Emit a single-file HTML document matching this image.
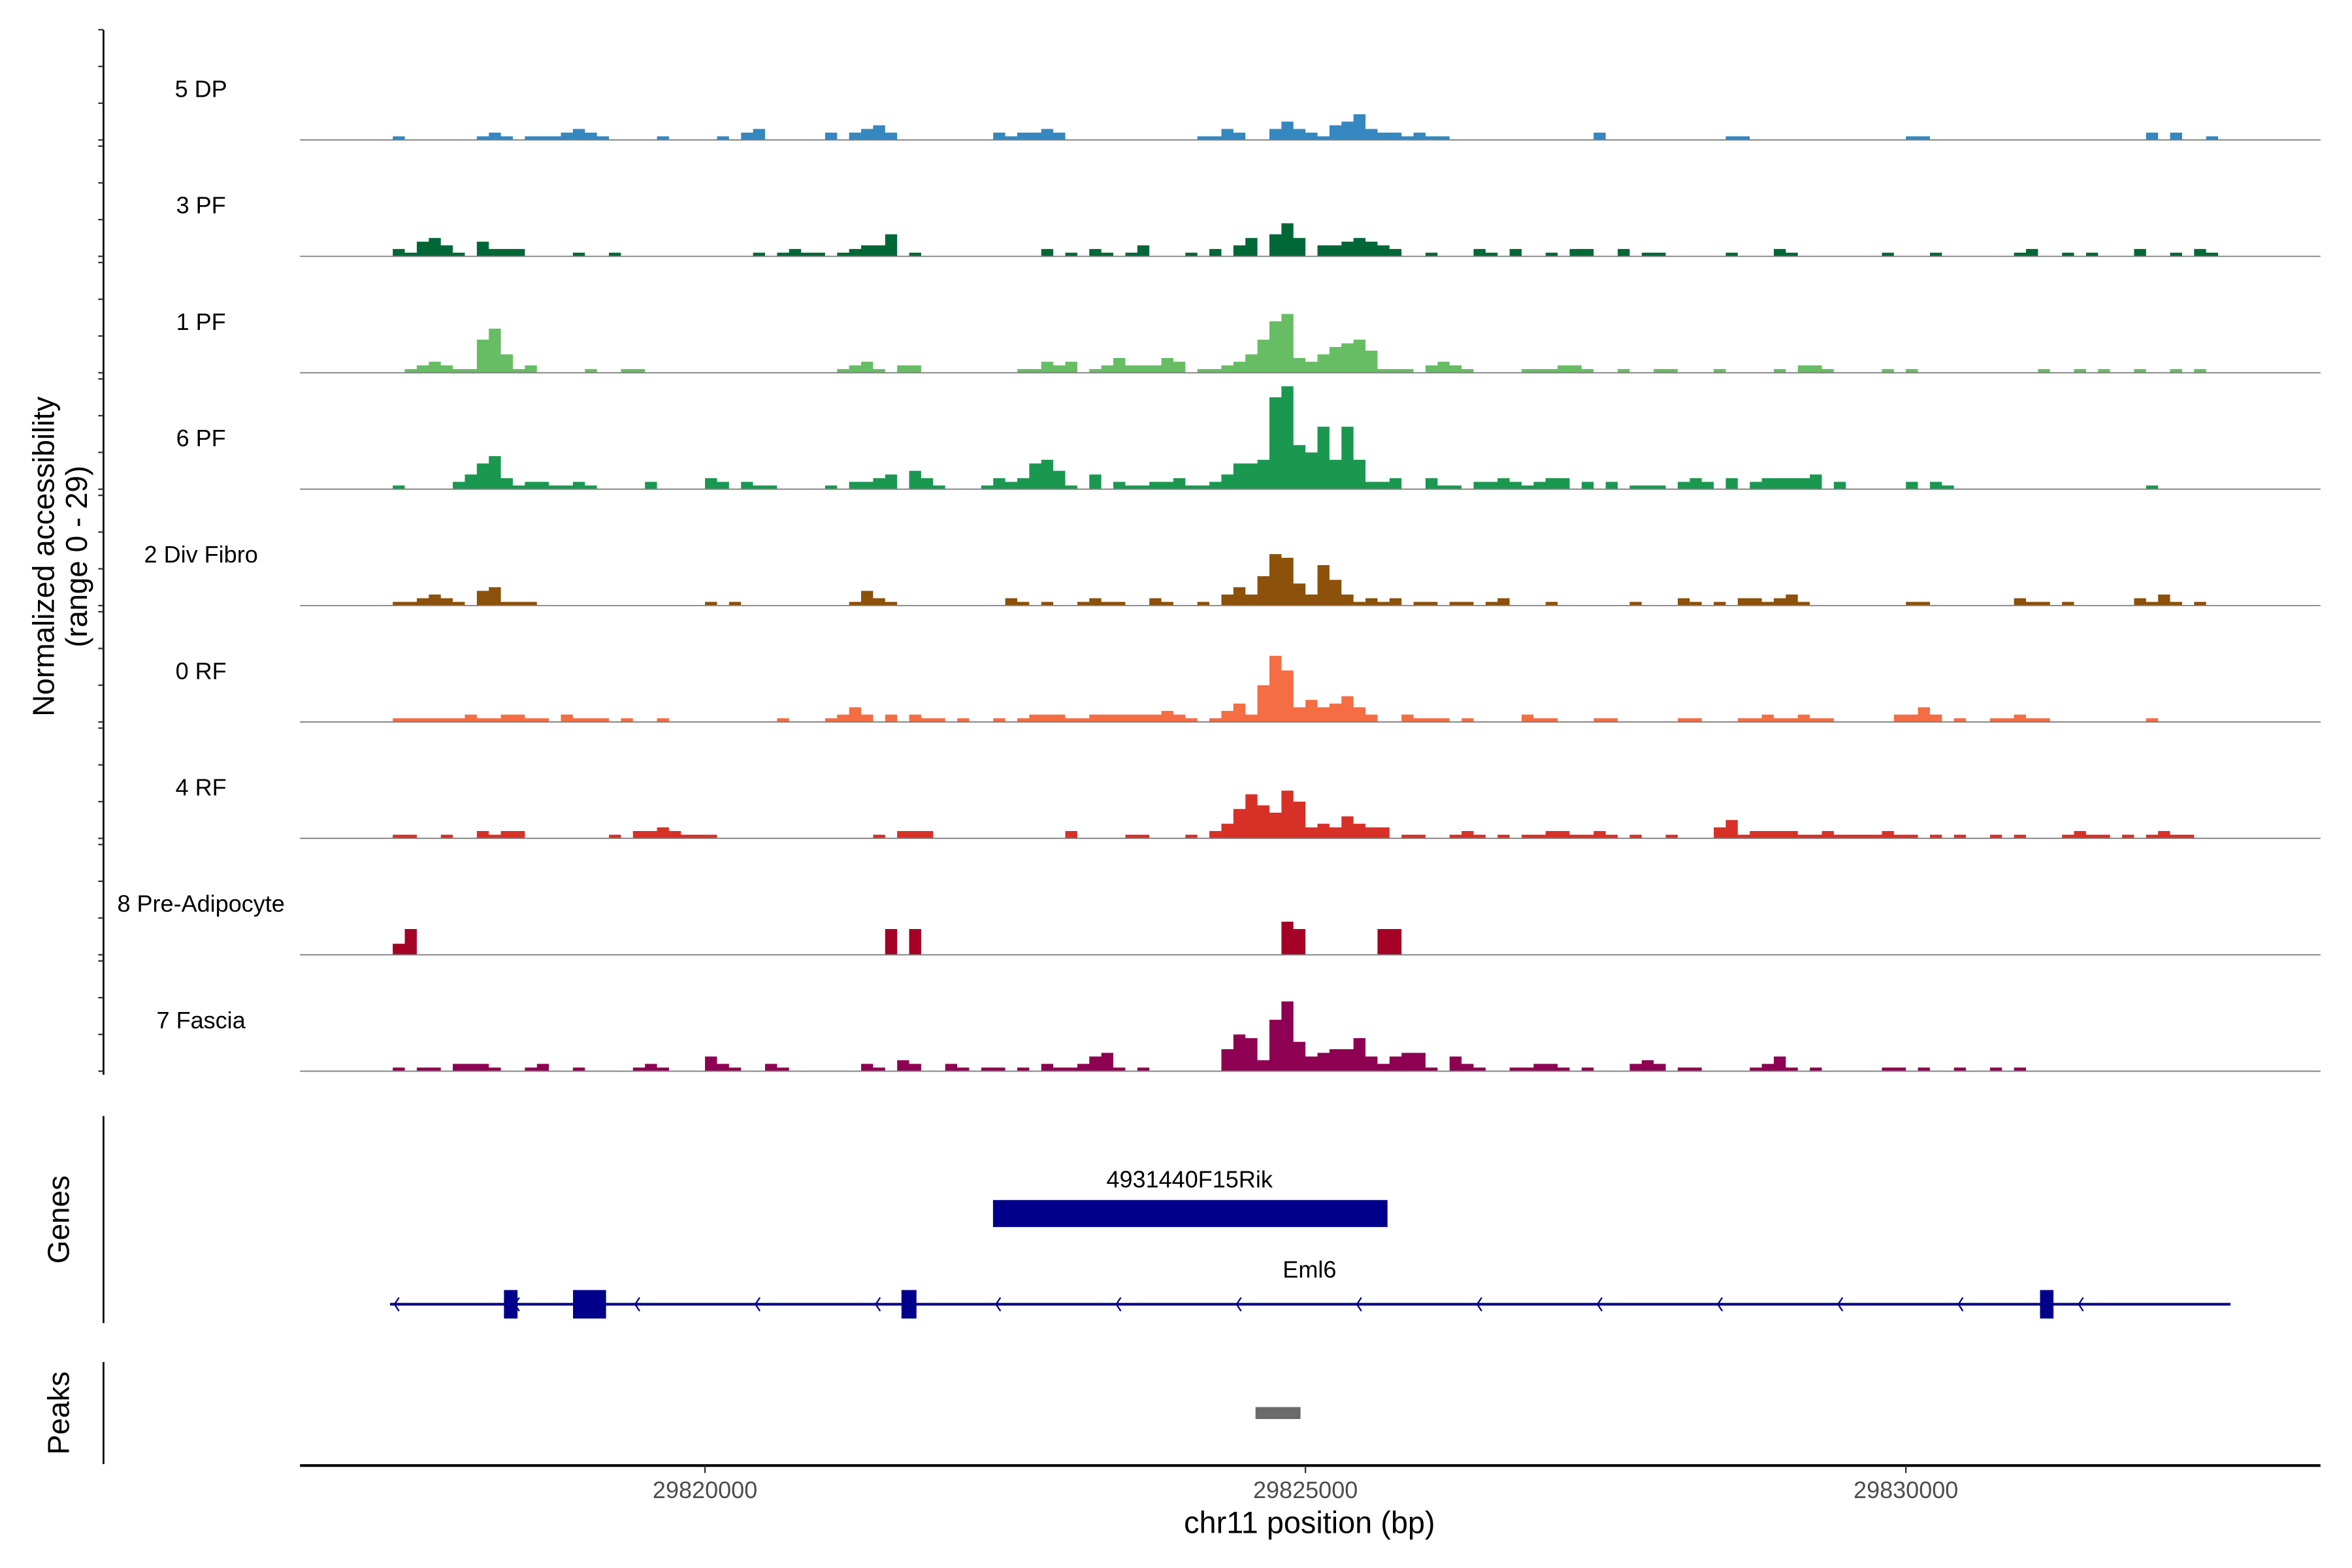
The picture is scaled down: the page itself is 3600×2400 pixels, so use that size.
<!DOCTYPE html>
<html><head><meta charset="utf-8">
<style>
html,body{margin:0;padding:0;background:#fff;}
svg{display:block;font-family:"Liberation Sans",Arial,sans-serif;}
</style></head>
<body>
<svg id="chart" width="3600" height="2400" viewBox="0 0 1568 1045.3" preserveAspectRatio="none" xmlns="http://www.w3.org/2000/svg">
  <rect x="0" y="0" width="1568" height="1046" fill="#fff"/>
  <g id="tracks"></g>
  <g id="yaxis">
    <line x1="69" y1="20" x2="69" y2="716.5" stroke="#000" stroke-width="1.2"/>
  </g>
  <text transform="translate(36,371) rotate(-90)" text-anchor="middle" font-size="20" fill="#000">Normalized accessibility</text>
  <text transform="translate(58,371) rotate(-90)" text-anchor="middle" font-size="20" fill="#000">(range 0 - 29)</text>

  <g>
    <line x1="69" y1="744" x2="69" y2="882" stroke="#000" stroke-width="1.2"/>
    <text transform="translate(46,813) rotate(-90)" text-anchor="middle" font-size="20" fill="#000">Genes</text>
    <text x="793" y="791.6" text-anchor="middle" font-size="15.7" fill="#000">4931440F15Rik</text>
    <rect x="662" y="800" width="263" height="18" fill="#00008B"/>
    <text x="873" y="851.6" text-anchor="middle" font-size="15.7" fill="#000">Eml6</text>
    <g id="eml6">
      <line x1="260" y1="869.5" x2="1487" y2="869.5" stroke="#00008B" stroke-width="1.8"/>
    </g>
  </g>

  <g>
    <line x1="69" y1="908" x2="69" y2="976" stroke="#000" stroke-width="1.2"/>
    <text transform="translate(46,942) rotate(-90)" text-anchor="middle" font-size="20" fill="#000">Peaks</text>
    <rect x="837" y="938" width="30" height="8" fill="#6b6b6b"/>
  </g>

  <g id="xaxis">
    <line x1="200" y1="977" x2="1547" y2="977" stroke="#000" stroke-width="1.8"/>
  </g>
  <text x="873" y="1022" text-anchor="middle" font-size="20.4" fill="#000">chr11 position (bp)</text>
</svg>
<script>
// ---- chart data ----
const trackNames = ["5 DP","3 PF","1 PF","6 PF","2 Div Fibro","0 RF","4 RF","8 Pre-Adipocyte","7 Fascia"];
const trackColors = ["#3587c0","#006837","#66bd63","#1a9850","#8c510a","#f46d43","#d73027","#a50026","#8e0152"];
const binStart = 29817400;
const binSize = 100;
const xTicks = [29820000, 29825000, 29830000];
// coverage: [binIndex, value]
const cov5DP = [[0,1],[7,1],[8,2],[9,1],[11,1],[12,1],[13,1],[14,2],[15,3],[16,2],[17,1],[22,1],[27,1],[29,2],[30,3],[36,2],[38,2],[39,3],[40,4],[41,2],[50,2],[51,1],[52,2],[53,2],[54,3],[55,2],[67,1],[68,1],[69,3],[70,2],[73,3],[74,5],[75,3],[76,2],[77,1],[78,4],[79,5],[80,7],[81,3],[82,2],[83,2],[84,1],[85,2],[86,1],[87,1],[100,2],[111,1],[112,1],[126,1],[127,1],[146,2],[148,2],[151,1]];
const cov3PF = [[0,2],[1,1],[2,4],[3,5],[4,3],[5,1],[7,4],[8,2],[9,2],[10,2],[15,1],[18,1],[30,1],[32,1],[33,2],[34,1],[35,1],[37,1],[38,2],[39,3],[40,3],[41,6],[43,1],[54,2],[56,1],[58,2],[59,1],[61,1],[62,3],[66,1],[68,2],[70,3],[71,5],[73,6],[74,9],[75,5],[77,3],[78,3],[79,4],[80,5],[81,4],[82,3],[83,2],[86,1],[90,2],[91,1],[93,2],[96,1],[98,2],[99,2],[102,2],[104,1],[105,1],[111,1],[115,2],[116,1],[124,1],[128,1],[135,1],[136,2],[139,1],[141,1],[145,2],[148,1],[150,2],[151,1]];
const cov1PF = [[1,1],[2,2],[3,3],[4,2],[5,1],[6,1],[7,9],[8,12],[9,5],[10,1],[11,2],[16,1],[19,1],[20,1],[37,1],[38,2],[39,3],[40,1],[42,2],[43,2],[52,1],[53,1],[54,3],[55,2],[56,3],[58,1],[59,2],[60,4],[61,2],[62,2],[63,2],[64,4],[65,3],[67,1],[68,1],[69,2],[70,3],[71,5],[72,9],[73,14],[74,16],[75,4],[76,3],[77,5],[78,7],[79,8],[80,9],[81,6],[82,1],[83,1],[84,1],[86,2],[87,3],[88,2],[89,1],[94,1],[95,1],[96,1],[97,2],[98,2],[99,1],[102,1],[105,1],[106,1],[110,1],[115,1],[117,2],[118,2],[119,1],[124,1],[126,1],[137,1],[140,1],[142,1],[145,1],[148,1],[150,1]];
const cov6PF = [[0,1],[5,2],[6,4],[7,7],[8,9],[9,3],[10,1],[11,2],[12,2],[13,1],[14,1],[15,2],[16,1],[21,2],[26,3],[27,2],[29,2],[30,1],[31,1],[36,1],[38,2],[39,2],[40,3],[41,4],[43,5],[44,3],[45,1],[49,1],[50,3],[51,2],[52,3],[53,7],[54,8],[55,5],[56,1],[58,4],[60,2],[61,1],[62,1],[63,2],[64,2],[65,3],[66,1],[67,1],[68,2],[69,4],[70,7],[71,7],[72,8],[73,25],[74,28],[75,12],[76,10],[77,17],[78,8],[79,17],[80,8],[81,2],[82,2],[83,3],[86,3],[87,1],[88,1],[90,2],[91,2],[92,3],[93,2],[94,1],[95,2],[96,3],[97,3],[99,2],[101,2],[103,1],[104,1],[105,1],[107,2],[108,3],[109,2],[111,3],[113,2],[114,3],[115,3],[116,3],[117,3],[118,4],[120,2],[126,2],[128,2],[129,1],[146,1]];
const cov2Div = [[0,1],[1,1],[2,2],[3,3],[4,2],[5,1],[7,4],[8,5],[9,1],[10,1],[11,1],[26,1],[28,1],[38,1],[39,4],[40,2],[41,1],[51,2],[52,1],[54,1],[57,1],[58,2],[59,1],[60,1],[63,2],[64,1],[67,1],[69,3],[70,5],[71,3],[72,8],[73,14],[74,13],[75,6],[76,3],[77,11],[78,7],[79,3],[80,1],[81,2],[82,1],[83,2],[85,1],[86,1],[88,1],[89,1],[91,1],[92,2],[96,1],[103,1],[107,2],[108,1],[110,1],[112,2],[113,2],[114,1],[115,2],[116,3],[117,1],[126,1],[127,1],[135,2],[136,1],[137,1],[139,1],[145,2],[146,1],[147,3],[148,1],[150,1]];
const cov0RF = [[0,1],[1,1],[2,1],[3,1],[4,1],[5,1],[6,2],[7,1],[8,1],[9,2],[10,2],[11,1],[12,1],[14,2],[15,1],[16,1],[17,1],[19,1],[22,1],[32,1],[36,1],[37,2],[38,4],[39,2],[41,2],[43,2],[44,1],[45,1],[47,1],[50,1],[52,1],[53,2],[54,2],[55,2],[56,1],[57,1],[58,2],[59,2],[60,2],[61,2],[62,2],[63,2],[64,3],[65,2],[66,1],[68,1],[69,3],[70,5],[71,2],[72,10],[73,18],[74,14],[75,4],[76,6],[77,4],[78,5],[79,7],[80,4],[81,2],[84,2],[85,1],[86,1],[87,1],[89,1],[94,2],[95,1],[96,1],[100,1],[101,1],[107,1],[108,1],[112,1],[113,1],[114,2],[115,1],[116,1],[117,2],[118,1],[119,1],[125,2],[126,2],[127,4],[128,2],[130,1],[133,1],[134,1],[135,2],[136,1],[137,1],[146,1]];
const cov4RF = [[0,1],[1,1],[4,1],[7,2],[8,1],[9,2],[10,2],[18,1],[20,2],[21,2],[22,3],[23,2],[24,1],[25,1],[26,1],[40,1],[42,2],[43,2],[44,2],[56,2],[61,1],[62,1],[66,1],[68,2],[69,4],[70,8],[71,12],[72,9],[73,7],[74,13],[75,10],[76,3],[77,4],[78,3],[79,6],[80,4],[81,3],[82,3],[84,1],[85,1],[88,1],[89,2],[90,1],[92,1],[94,1],[95,1],[96,2],[97,2],[98,1],[99,1],[100,2],[101,1],[103,1],[106,1],[110,3],[111,5],[112,1],[113,2],[114,2],[115,2],[116,2],[117,1],[118,1],[119,2],[120,1],[121,1],[122,1],[123,1],[124,2],[125,1],[126,1],[128,1],[130,1],[133,1],[135,1],[139,1],[140,2],[141,1],[142,1],[144,1],[146,1],[147,2],[148,1],[149,1]];
const cov8Pre = [[0,3],[1,7],[41,7],[43,7],[74,9],[75,7],[82,7],[83,7]];
const cov7Fas = [[0,1],[2,1],[3,1],[5,2],[6,2],[7,2],[8,1],[11,1],[12,2],[15,1],[20,1],[21,2],[22,1],[26,4],[27,2],[28,1],[31,2],[32,1],[39,2],[40,1],[42,3],[43,2],[46,2],[47,1],[49,1],[50,1],[52,1],[54,2],[55,1],[56,1],[57,2],[58,4],[59,5],[60,1],[62,1],[69,6],[70,10],[71,9],[72,3],[73,14],[74,19],[75,8],[76,4],[77,5],[78,6],[79,6],[80,9],[81,4],[82,2],[83,4],[84,5],[85,5],[86,1],[88,4],[89,2],[90,1],[93,1],[94,1],[95,2],[96,2],[97,1],[99,1],[103,2],[104,3],[105,2],[107,1],[108,1],[113,1],[114,2],[115,4],[116,1],[118,1],[124,1],[125,1],[127,1],[130,1],[133,1],[135,1]];
const trackData = [cov5DP,cov3PF,cov1PF,cov6PF,cov2Div,cov0RF,cov4RF,cov8Pre,cov7Fas];
// gene model (bp)
const exonStarts = [29818326, 29818901, 29821636, 29831117];
const exonEnds   = [29818439, 29819176, 29821761, 29831229];

// ---- scales ----
const NS = "http://www.w3.org/2000/svg";
const xPx = bp => 470 + (bp - 29820000) * 0.08006;
const firstBase = 93.3, trackStep = 77.6, unitPx = 2.45;
const yPx = (t, v) => firstBase + t * trackStep - v * unitPx;

const tracksG = document.getElementById('tracks');
const yaxisG = document.getElementById('yaxis');
trackData.forEach((data, t) => {
  const base = yPx(t, 0);
  const g = document.createElementNS(NS, 'g');
  
  
  const sorted = data.slice().sort((a, b) => a[0] - b[0]);
  let d = '';
  sorted.forEach(([bin, val], k) => {
    const x0 = xPx(binStart + bin * binSize), x1 = xPx(binStart + (bin + 1) * binSize);
    const prev = k > 0 && sorted[k - 1][0] === bin - 1;
    const next = k < sorted.length - 1 && sorted[k + 1][0] === bin + 1;
    const y = yPx(t, val);
    if (!prev) d += 'M' + x0.toFixed(2) + ',' + base.toFixed(2);
    d += 'L' + x0.toFixed(2) + ',' + y.toFixed(2) + 'L' + x1.toFixed(2) + ',' + y.toFixed(2);
    if (!next) d += 'L' + x1.toFixed(2) + ',' + base.toFixed(2) + 'Z';
  });
  const p = document.createElementNS(NS, 'path');
  p.setAttribute('d', d);
  p.setAttribute('fill', trackColors[t]);
  
  
  g.appendChild(p);
  const bl = document.createElementNS(NS, 'line');
  bl.setAttribute('x1', 200); bl.setAttribute('x2', 1547);
  bl.setAttribute('y1', base); bl.setAttribute('y2', base);
  bl.setAttribute('stroke', '#7f7f7f'); bl.setAttribute('stroke-width', '0.8');
  
  
  g.appendChild(bl);
  const lbl = document.createElementNS(NS, 'text');
  lbl.setAttribute('x', 134); lbl.setAttribute('y', base - 28.6);
  lbl.setAttribute('text-anchor', 'middle'); lbl.setAttribute('font-size', '15.7');
  lbl.textContent = trackNames[t];
  
  
  g.appendChild(lbl);
  tracksG.appendChild(g);
  [0, 10, 20, 30].forEach(v => {
    const yy = yPx(t, v);
    const tk = document.createElementNS(NS, 'line');
    tk.setAttribute('x1', 65.5); tk.setAttribute('x2', 69);
    tk.setAttribute('y1', yy); tk.setAttribute('y2', yy);
    tk.setAttribute('stroke', '#333'); tk.setAttribute('stroke-width', '1');
    
    
    yaxisG.appendChild(tk);
  });
});

// x axis ticks
const xg = document.getElementById('xaxis');
xTicks.forEach(v => {
  const x = xPx(v);
  const tk = document.createElementNS(NS, 'line');
  tk.setAttribute('x1', x); tk.setAttribute('x2', x);
  tk.setAttribute('y1', 977); tk.setAttribute('y2', 982);
  tk.setAttribute('stroke', '#333'); tk.setAttribute('stroke-width', '1');
  
  
  xg.appendChild(tk);
  const tl = document.createElementNS(NS, 'text');
  tl.setAttribute('x', x); tl.setAttribute('y', 998.6);
  tl.setAttribute('text-anchor', 'middle'); tl.setAttribute('font-size', '15.7');
  tl.setAttribute('fill', '#4d4d4d');
  tl.textContent = String(v);
  
  
  xg.appendChild(tl);
});

// Eml6 exons and strand arrows
const eg = document.getElementById('eml6');
exonStarts.forEach((s, i) => {
  const r = document.createElementNS(NS, 'rect');
  const x0 = xPx(s), x1 = xPx(exonEnds[i]);
  r.setAttribute('x', x0); r.setAttribute('width', x1 - x0);
  r.setAttribute('y', 860); r.setAttribute('height', 19);
  r.setAttribute('fill', '#00008B');
  
  
  eg.appendChild(r);
});
for (let k = 0; k < 15; k++) {
  const ax = 263 + k * 80.2;
  const a = document.createElementNS(NS, 'path');
  a.setAttribute('d', 'M' + (ax + 3) + ',865 L' + ax + ',869.5 L' + (ax + 3) + ',874');
  a.setAttribute('fill', 'none'); a.setAttribute('stroke', '#00008B'); a.setAttribute('stroke-width', '1');
  
  
  eg.appendChild(a);
}
</script>
</body></html>
